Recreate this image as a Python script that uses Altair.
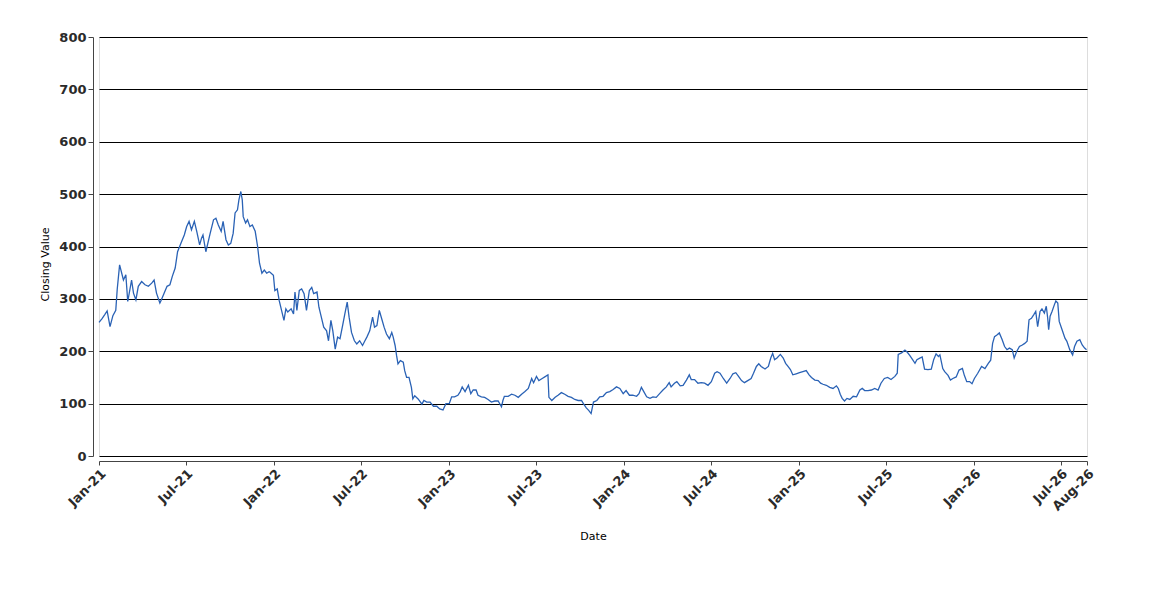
import altair as alt
import pandas as pd

# Days since 2021-01-01 and closing values
day_offsets = [
    0, 6, 12, 17, 23, 29, 35, 38, 43, 51, 56, 60, 68, 72, 77, 82, 89, 96, 103, 110,
    115, 120, 127, 130, 142, 148, 153, 159, 164, 171, 178, 183, 188, 193, 199, 204, 210, 214, 217, 223,
    232, 239, 244, 249, 255, 259, 265, 270, 275, 280, 284, 289, 292, 296, 299, 301, 306, 310, 315, 320,
    326, 331, 335, 340, 345, 350, 355,
    357, 364, 367, 372, 376, 381, 386, 390, 394, 401, 406, 409, 413, 418, 423, 428, 433, 439, 444, 448,
    455, 459, 464, 469, 475, 479, 484, 488, 493, 498, 503, 509, 513, 518, 522, 527, 533, 538, 544, 550,
    555, 559, 565, 571, 575, 580, 585, 590, 595, 600, 606, 611, 614, 618, 621, 624, 629, 635, 638, 642,
    647, 652, 655, 659, 666, 674, 678, 684, 691, 698, 705, 711, 718, 724, 731, 736, 742, 749, 754, 758,
    764, 771, 776, 781, 787, 791, 798, 805, 812, 819, 826, 833, 840, 843, 846, 854, 861, 868, 875, 882,
    889, 896, 903, 907, 913, 918, 925, 932, 937, 939, 945, 952, 958, 965, 972, 979, 986, 993, 1000, 1007,
    1011, 1017, 1022, 1027, 1032, 1039, 1045, 1052, 1059, 1066, 1073, 1080, 1087, 1094, 1100, 1107, 1114, 1122, 1127, 1132,
    1137, 1143, 1150, 1156, 1163, 1170, 1177, 1184, 1190, 1194, 1201, 1206, 1213, 1219, 1226, 1232, 1236, 1243, 1250, 1257,
    1264, 1271, 1278, 1285, 1290, 1296, 1303, 1310, 1317, 1323, 1329, 1334, 1341, 1347, 1354, 1361, 1366, 1372, 1377, 1382,
    1390, 1397, 1402, 1406, 1410, 1415, 1422, 1428, 1433, 1438, 1443, 1448, 1455, 1462, 1469, 1476, 1482, 1487, 1494, 1501,
    1506, 1511, 1518, 1525, 1532, 1539, 1543, 1547, 1551, 1556, 1561, 1567, 1574, 1581, 1588, 1593, 1598, 1605, 1612, 1619,
    1626, 1632, 1639, 1646, 1653, 1661, 1666, 1668, 1675, 1682, 1687, 1692, 1698, 1703, 1707, 1713, 1718, 1723, 1730, 1737,
    1742, 1747, 1752, 1755, 1761, 1765, 1772, 1777, 1782, 1789, 1795, 1802, 1806, 1811, 1817, 1822, 1827, 1834, 1842, 1849,
    1856, 1861, 1865, 1869, 1874, 1879, 1885, 1890, 1895, 1900, 1906, 1910, 1915, 1921, 1927, 1932, 1937, 1941, 1946, 1951,
    1955, 1959, 1964, 1968, 1973, 1977, 1980, 1982, 1985, 1989, 1994, 1997, 2001, 2004, 2010, 2016, 2020, 2026, 2032, 2036,
    2041, 2047, 2052, 2057, 2061,
]

closing_values = [
    255, 262, 270, 277, 247, 268, 278, 318, 365, 336, 346, 295, 336, 311, 298, 324, 333, 327, 324, 330,
    336, 311, 292, 298, 324, 327, 343, 359, 390, 406, 422, 438, 448, 432, 448, 429, 403, 416, 422, 390,
    425, 451, 454, 441, 429, 448, 413, 403, 406, 425, 464, 470, 489, 505, 489, 457, 445, 451, 438, 441,
    429, 400, 368, 349, 355, 349, 352,
    351, 345, 316, 319, 297, 278, 259, 281, 275, 281, 271, 313, 278, 316, 319, 310, 278, 316, 322, 310,
    313, 284, 265, 246, 239, 220, 259, 239, 204, 227, 224, 252, 271, 294, 265, 236, 220, 214, 220, 211,
    220, 227, 239, 265, 246, 249, 278, 262, 246, 233, 224, 236, 227, 211, 192, 176, 182, 179, 163, 150,
    150, 131, 109, 115, 109, 99, 106, 103, 103, 95, 95, 90, 88, 100, 100, 113, 113, 116, 123, 132,
    123, 135, 119, 126, 126, 116, 113, 112, 108, 103, 105, 105, 94, 106, 114, 114, 118, 116, 112, 118,
    123, 129, 148, 140, 152, 144, 148, 152, 155, 112, 106, 112, 116, 121, 118, 114, 112, 108, 106, 106,
    100, 92, 87, 81, 103, 106, 113, 114, 121, 123, 127, 132, 129, 119, 125, 116, 116, 114, 119, 131,
    123, 113, 110, 113, 112, 119, 126, 132, 140, 132, 139, 142, 134, 135, 145, 155, 146, 146, 139, 140,
    139, 135, 142, 158, 161, 158, 148, 139, 148, 157, 159, 153, 144, 140, 144, 148, 158, 171, 176, 171,
    166, 171, 187, 196, 184, 187, 194, 187, 177, 171, 165, 155, 157, 159, 161, 163, 155, 150, 145, 144,
    139, 137, 135, 131, 129, 134, 129, 118, 110, 105, 110, 108, 114, 113, 126, 129, 125, 125, 126, 129,
    126, 139, 148, 150, 146, 152, 158, 194, 197, 202, 198, 192, 184, 177, 184, 187, 189, 166, 165, 166,
    184, 195, 190, 193, 167, 161, 154, 145, 148, 151, 164, 167, 154, 142, 142, 138, 148, 158, 171, 167,
    177, 183, 215, 228, 231, 235, 222, 209, 203, 206, 203, 187, 199, 209, 212, 215, 219, 260, 263, 270,
    276, 247, 276, 281, 273, 286, 263, 241, 267, 276, 289, 296, 292, 257, 241, 225, 219, 203, 193, 209,
    219, 222, 212, 206, 203,
]

y_ticks = [0, 100, 200, 300, 400, 500, 600, 700, 800]
x_tick_dates = [
    (2021, 1, 1), (2021, 7, 1), (2022, 1, 1), (2022, 7, 1), (2023, 1, 1), (2023, 7, 1),
    (2024, 1, 1), (2024, 7, 1), (2025, 1, 1), (2025, 7, 1), (2026, 1, 1), (2026, 7, 1),
    (2026, 8, 25),
]

start = pd.Timestamp("2021-01-01")
df = pd.DataFrame({
    "Date": [(start + pd.Timedelta(days=d)).strftime("%Y-%m-%d") for d in day_offsets],
    "Close": closing_values,
})

tick_vals = [alt.DateTime(year=y, month=m, date=d) for (y, m, d) in x_tick_dates]

label_style = dict(
    labelFont="DejaVu Sans",
    labelFontWeight="bold",
    labelFontSize=13,
    labelColor="#2a2a2a",
    titleFont="DejaVu Sans",
    titleFontWeight="normal",
    titleColor="#000000",
    domainColor="#444444",
    tickColor="#444444",
)

chart = alt.Chart(df).mark_line(color="#2a62b5", strokeWidth=1.3).encode(
    x=alt.X(
        "Date:T",
        title="Date",
        scale=alt.Scale(domain=[tick_vals[0], tick_vals[-1]]),
        axis=alt.Axis(
            values=tick_vals,
            format="%b-%y",
            labelAngle=-45,
            grid=False,
            offset=5,
            tickSize=4,
            labelPadding=2,
            titleFontSize=11,
            titlePadding=17,
            labelOverlap=False,
            labelFlush=False,
            **label_style,
        ),
    ),
    y=alt.Y(
        "Close:Q",
        title="Closing Value",
        scale=alt.Scale(domain=[0, 800], nice=False),
        axis=alt.Axis(
            values=y_ticks,
            grid=True,
            gridColor="#000000",
            gridOpacity=1,
            gridWidth=1,
            offset=6,
            tickSize=5,
            labelPadding=2,
            titleFontSize=11,
            titlePadding=8,
            titleY=227,
            **label_style,
        ),
    ),
).properties(
    width=988,
    height=419,
    autosize=alt.AutoSizeParams(type="none"),
    padding={"left": 91, "top": 29, "right": 55, "bottom": 110},
).configure_view(
    stroke="#444444",
    strokeWidth=1,
).configure(
    background="white",
)

chart.save("out.html", embed_options={"renderer": "svg", "actions": False})
